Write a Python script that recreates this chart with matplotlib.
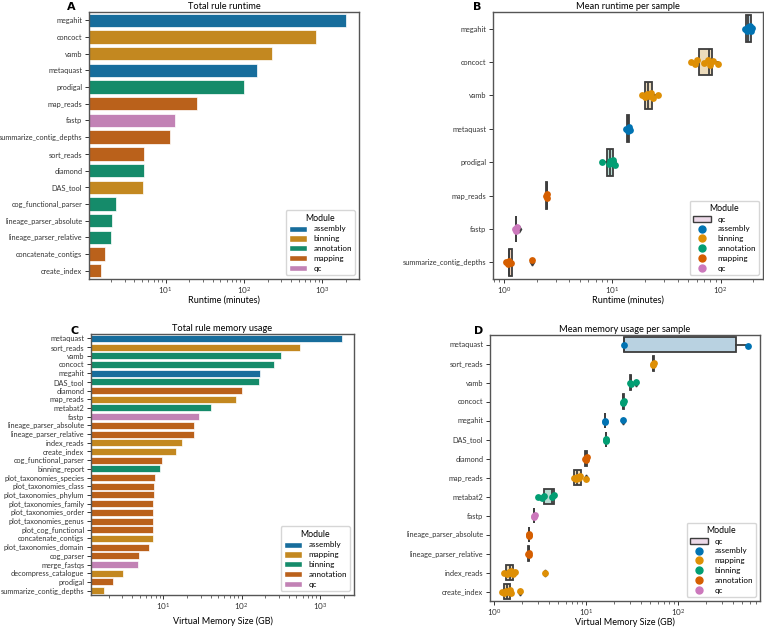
import colorsys
import numpy as np
import matplotlib
matplotlib.use("Agg")
import matplotlib.pyplot as plt
import matplotlib.colors as mcolors
from matplotlib.patches import Patch
from matplotlib.lines import Line2D

plt.rcParams['font.family'] = ['Lato', 'DejaVu Sans']
plt.rcParams['mathtext.fontset'] = 'cm'
plt.rcParams['axes.unicode_minus'] = False

PALETTE = ['#0173B2', '#DE8F05', '#029E73', '#D55E00', '#CC78BC']

# ---------------- Panel A: total rule runtime ----------------
a_rules = ['megahit', 'concoct', 'vamb', 'metaquast', 'prodigal', 'map_reads', 'fastp',
           'summarize_contig_depths', 'sort_reads', 'diamond', 'DAS_tool',
           'cog_functional_parser', 'lineage_parser_absolute', 'lineage_parser_relative',
           'concatenate_contigs', 'create_index']
a_runtime = [2020, 822, 230, 147, 99, 25.3, 13.0, 11.2, 5.28, 5.28, 5.2,
             2.34, 2.07, 2.0, 1.70, 1.49]
a_module = ['assembly', 'binning', 'binning', 'assembly', 'annotation', 'mapping', 'qc',
            'mapping', 'mapping', 'annotation', 'binning', 'annotation', 'annotation',
            'annotation', 'mapping', 'mapping']
a_order = ['assembly', 'binning', 'annotation', 'mapping', 'qc']

# ---------------- Panel B: mean runtime per sample ----------------
b_rules = ['megahit', 'concoct', 'vamb', 'metaquast', 'prodigal', 'map_reads', 'fastp',
           'summarize_contig_depths']
b_module = ['assembly', 'binning', 'binning', 'assembly', 'annotation', 'mapping', 'qc', 'mapping']
b_points = [
    [168, 174, 178, 182, 186, 190, 196],
    [52.9, 58, 61, 70.3, 77, 79.8, 85.7, 94],
    [18.9, 20.0, 20.7, 21.8, 22.6, 23.6, 26.3],
    [13.5, 13.8, 14.1, 14.4],
    [7.98, 9.3, 9.6, 9.9, 10.2, 10.5],
    [2.45, 2.48, 2.50],
    [1.27, 1.29, 1.31],
    [1.04, 1.08, 1.12, 1.15, 1.80],
]
b_q1 = [171, 63.6, 20.0, 13.7, 8.87, 2.46, 1.28, 1.10]
b_med = [180, 78.7, 21.5, 13.9, 9.5, 2.48, 1.29, 1.12]
b_q3 = [191, 83.8, 23.1, 14.2, 10.07, 2.49, 1.30, 1.18]
b_whislo = [168, 52.9, 18.9, 13.5, 7.98, 2.45, 1.27, 1.04]
b_whishi = [196, 94, 26.6, 14.4, 10.7, 2.50, 1.31, 1.18]
b_fliers = [[], [], [], [], [], [], [1.37], [1.80]]
b_order = ['assembly', 'binning', 'annotation', 'mapping', 'qc']

# ---------------- Panel C: total rule memory usage ----------------
c_rules = ['metaquast', 'sort_reads', 'vamb', 'concoct', 'megahit', 'DAS_tool', 'diamond',
           'map_reads', 'metabat2', 'fastp', 'lineage_parser_absolute', 'lineage_parser_relative',
           'index_reads', 'create_index', 'cog_functional_parser', 'binning_report',
           'plot_taxonomies_species', 'plot_taxonomies_class', 'plot_taxonomies_phylum',
           'plot_taxonomies_family', 'plot_taxonomies_order', 'plot_taxonomies_genus',
           'plot_cog_functional', 'concatenate_contigs', 'plot_taxonomies_domain', 'cog_parser',
           'merge_fastqs', 'decompress_catalogue', 'prodigal', 'summarize_contig_depths']
c_memory = [1928, 556, 318, 259, 173, 168, 102, 83.8, 40.6, 28.2, 24.4, 24.4, 17.3, 14.4,
            9.5, 8.98, 7.74, 7.53, 7.53, 7.45, 7.45, 7.45, 7.45, 7.31, 6.56, 4.84, 4.80,
            3.03, 2.30, 1.73]
c_module = ['assembly', 'mapping', 'binning', 'binning', 'assembly', 'binning', 'annotation',
            'mapping', 'binning', 'qc', 'annotation', 'annotation', 'mapping', 'mapping',
            'annotation', 'binning', 'annotation', 'annotation', 'annotation', 'annotation',
            'annotation', 'annotation', 'annotation', 'mapping', 'annotation', 'annotation',
            'qc', 'mapping', 'annotation', 'mapping']
c_order = ['assembly', 'mapping', 'binning', 'annotation', 'qc']

# ---------------- Panel D: mean memory usage per sample ----------------
d_rules = ['metaquast', 'sort_reads', 'vamb', 'concoct', 'megahit', 'DAS_tool', 'diamond',
           'map_reads', 'metabat2', 'fastp', 'lineage_parser_absolute', 'lineage_parser_relative',
           'index_reads', 'create_index']
d_module = ['assembly', 'mapping', 'binning', 'binning', 'assembly', 'binning', 'annotation',
            'mapping', 'binning', 'qc', 'annotation', 'annotation', 'mapping', 'mapping']
d_points = [
    [25.9, 572],
    [53.5, 54.0, 54.5],
    [30.4, 30.8, 34.7],
    [25.3, 25.5, 25.7],
    [16.0, 16.2, 25.5],
    [16.3, 16.5, 16.7],
    [9.7, 9.9, 10.0, 10.1, 10.3],
    [7.4, 7.7, 8.0, 8.3, 8.7, 10.0],
    [3.03, 3.3, 3.5, 4.3, 4.5],
    [2.72, 2.74, 2.76],
    [2.38, 2.40, 2.42],
    [2.36, 2.38, 2.40],
    [1.30, 1.38, 1.45, 1.50, 1.55, 1.62, 1.70, 3.56],
    [1.22, 1.30, 1.36, 1.42, 1.50, 1.55, 1.92],
]
d_q1 = [25.9, 53.8, 30.4, 25.4, 16.0, 16.4, 9.8, 7.46, 3.5, 2.73, 2.39, 2.37, 1.35, 1.28]
d_med = [25.9, 54.0, 30.6, 25.5, 16.1, 16.5, 10.0, 8.0, 4.3, 2.74, 2.40, 2.38, 1.48, 1.38]
d_q3 = [430, 54.2, 30.8, 25.6, 16.2, 16.6, 10.2, 8.75, 4.49, 2.75, 2.41, 2.39, 1.62, 1.49]
d_whislo = [25.9, 53.5, 30.4, 25.3, 16.0, 16.3, 9.7, 7.4, 3.03, 2.72, 2.38, 2.36, 1.30, 1.22]
d_whishi = [572, 54.5, 30.8, 25.7, 16.2, 16.7, 10.3, 8.75, 4.6, 2.76, 2.42, 2.40, 1.70, 1.55]
d_fliers = [[], [], [34.7], [], [25.5], [], [], [10.0], [], [], [], [], [3.56], [1.92]]
d_order = ['assembly', 'mapping', 'binning', 'annotation', 'qc']

LINE = '#3d3d3d'
SPINE = '#555555'
TICK_FS = 5.3
TITLE_FS = 6.7
LABEL_FS = 6.5
LEG_FS = 5.8


def desat(c, prop=0.75):
    r, g, b = mcolors.to_rgb(c)
    h, l, s = colorsys.rgb_to_hls(r, g, b)
    return colorsys.hls_to_rgb(h, l, s * prop)


def style_axes(ax):
    for sp in ax.spines.values():
        sp.set_color(SPINE)
        sp.set_linewidth(1.0)
    ax.tick_params(axis='both', which='major', labelsize=TICK_FS, length=3, width=0.7,
                   colors='#333333', pad=1.8)
    ax.tick_params(axis='x', which='minor', length=1.8, width=0.5, colors='#333333')
    ax.tick_params(axis='x', which='major', labelsize=TICK_FS + 0.6, pad=1.2)


def bar_panel(ax, rules, vals, mods, order, xlim, title, xlabel):
    colmap = {m: desat(PALETTE[i]) for i, m in enumerate(order)}
    ax.set_xscale('log')
    y = np.arange(len(rules))
    ax.barh(y, vals, height=0.8, color=[colmap[m] for m in mods],
            edgecolor='white', linewidth=0.5)
    ax.set_yticks(y)
    ax.set_yticklabels(rules)
    ax.set_ylim(len(rules) - 0.5, -0.5)
    ax.set_xlim(*xlim)
    ax.set_title(title, fontsize=TITLE_FS, pad=2)
    ax.set_xlabel(xlabel, fontsize=LABEL_FS)
    style_axes(ax)
    handles = [Patch(facecolor=colmap[m], edgecolor='white', label=m) for m in order]
    leg = ax.legend(handles=handles, title='Module', loc='lower right', fontsize=LEG_FS,
                    title_fontsize=LEG_FS + 0.5, handlelength=2.2, handleheight=0.8,
                    labelspacing=0.35, borderpad=0.4)
    leg.get_frame().set_edgecolor('#cccccc')


def box_panel(ax, rules, mods, order, points, q1, med, q3, wlo, whi, fliers, xlim, title,
              xlabel):
    colmap = {m: PALETTE[i] for i, m in enumerate(order)}
    ax.set_xscale('log')
    n = len(rules)
    pos = np.arange(n)
    stats = []
    for i in range(n):
        stats.append(dict(q1=q1[i], med=med[i], q3=q3[i], whislo=wlo[i], whishi=whi[i],
                          fliers=fliers[i]))
    bp = ax.bxp(stats, positions=pos, widths=0.8, orientation='horizontal', patch_artist=True,
                showfliers=True,
                boxprops=dict(edgecolor=LINE, linewidth=1.3),
                whiskerprops=dict(color=LINE, linewidth=1.3),
                capprops=dict(color=LINE, linewidth=0),
                medianprops=dict(color=LINE, linewidth=1.3),
                flierprops=dict(marker='d', markerfacecolor=LINE, markeredgecolor=LINE,
                                markersize=3.5))
    for i, patch in enumerate(bp['boxes']):
        c = desat(colmap[mods[i]])
        patch.set_facecolor(mcolors.to_rgba(c, 0.3))
    offs = [0.0, 0.06, -0.05, 0.03, -0.07, 0.08, -0.02, 0.05]
    for i in range(n):
        xs = points[i]
        ys = [pos[i] + offs[k % len(offs)] for k in range(len(xs))]
        ax.scatter(xs, ys, s=24, color=colmap[mods[i]], zorder=5, linewidths=0)
    ax.set_yticks(pos)
    ax.set_yticklabels(rules)
    ax.set_ylim(n - 0.5, -0.5)
    ax.set_xlim(*xlim)
    ax.set_title(title, fontsize=TITLE_FS, pad=2)
    ax.set_xlabel(xlabel, fontsize=LABEL_FS)
    style_axes(ax)
    qc_c = desat(colmap['qc'])
    handles = [Patch(facecolor=mcolors.to_rgba(qc_c, 0.3), edgecolor=LINE, linewidth=1.0,
                     label='qc')]
    for m in order:
        handles.append(Line2D([], [], marker='o', linestyle='', markersize=5,
                              color=colmap[m], label=m))
    leg = ax.legend(handles=handles, title='Module', loc='lower right', fontsize=LEG_FS,
                    title_fontsize=LEG_FS + 0.5, handlelength=2.2, handleheight=0.8,
                    labelspacing=0.35, borderpad=0.4)
    leg.get_frame().set_edgecolor('#cccccc')


fig = plt.figure(figsize=(7.64, 6.29), dpi=100)
W, H = 764.0, 629.0


def add_ax(l, r, t, b):
    return fig.add_axes([l / W, 1 - b / H, (r - l) / W, (b - t) / H])


def place_xlabel(ax, top_px, t, b):
    # xlabel top edge placed at pixel row top_px (label va is 'top')
    ax.xaxis.set_label_coords(0.5, -(top_px - b) / (b - t))


axA = add_ax(89, 359, 12, 279)
axB = add_ax(493, 763, 12, 279)
axC = add_ax(91, 354, 334, 595)
axD = add_ax(490, 760, 335, 601)

bar_panel(axA, a_rules, a_runtime, a_module, a_order, (1.05, 2940),
          'Total rule runtime', 'Runtime (minutes)')
box_panel(axB, b_rules, b_module, b_order, b_points, b_q1, b_med, b_q3, b_whislo, b_whishi,
          b_fliers, (0.79, 246), 'Mean runtime per sample', 'Runtime (minutes)')
bar_panel(axC, c_rules, c_memory, c_module, c_order, (1.19, 2722),
          'Total rule memory usage', 'Virtual Memory Size (GB)')
box_panel(axD, d_rules, d_module, d_order, d_points, d_q1, d_med, d_q3, d_whislo, d_whishi,
          d_fliers, (0.905, 779), 'Mean memory usage per sample', 'Virtual Memory Size (GB)')

place_xlabel(axA, 296, 12, 279)
place_xlabel(axB, 296, 12, 279)
place_xlabel(axC, 616, 334, 595)
place_xlabel(axD, 617, 335, 601)

for lab, x, y in [('A', 71, 7), ('B', 477, 7), ('C', 75, 331), ('D', 479, 331)]:
    fig.text(x / W, 1 - y / H, lab, fontsize=8, fontweight='bold', family='DejaVu Sans',
             ha='center', va='center')

fig.savefig('out.png', dpi=100)
